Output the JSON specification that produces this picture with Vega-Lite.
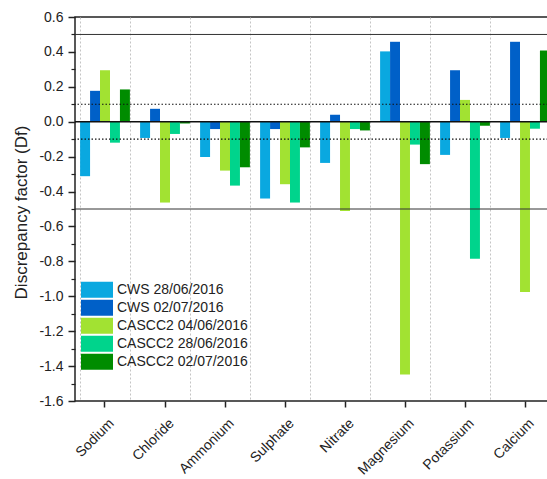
{
  "$schema": "https://vega.github.io/schema/vega-lite/v6.json",
  "autosize": "none",
  "padding": {"left": 75, "top": 17, "right": 0, "bottom": 78},
  "width": 480,
  "height": 384,
  "config": {
    "font": "Liberation Sans",
    "view": {"stroke": "#222", "strokeWidth": 1.5},
    "axis": {"labelColor": "#222", "titleColor": "#222", "tickColor": "#222", "domainColor": "#222", "labelFontSize": 14, "labelFont": "Liberation Sans", "titleFont": "Liberation Sans"}
  },
  "datasets": {
    "bars": [
      {"ion": "Sodium", "series": "CWS 28/06/2016", "value": -0.312},
      {"ion": "Sodium", "series": "CWS 02/07/2016", "value": 0.177},
      {"ion": "Sodium", "series": "CASCC2 04/06/2016", "value": 0.295},
      {"ion": "Sodium", "series": "CASCC2 28/06/2016", "value": -0.12},
      {"ion": "Sodium", "series": "CASCC2 02/07/2016", "value": 0.185},
      {"ion": "Chloride", "series": "CWS 28/06/2016", "value": -0.093},
      {"ion": "Chloride", "series": "CWS 02/07/2016", "value": 0.074},
      {"ion": "Chloride", "series": "CASCC2 04/06/2016", "value": -0.463},
      {"ion": "Chloride", "series": "CASCC2 28/06/2016", "value": -0.07},
      {"ion": "Chloride", "series": "CASCC2 02/07/2016", "value": -0.01},
      {"ion": "Ammonium", "series": "CWS 28/06/2016", "value": -0.202},
      {"ion": "Ammonium", "series": "CWS 02/07/2016", "value": -0.042},
      {"ion": "Ammonium", "series": "CASCC2 04/06/2016", "value": -0.28},
      {"ion": "Ammonium", "series": "CASCC2 28/06/2016", "value": -0.366},
      {"ion": "Ammonium", "series": "CASCC2 02/07/2016", "value": -0.261},
      {"ion": "Sulphate", "series": "CWS 28/06/2016", "value": -0.44},
      {"ion": "Sulphate", "series": "CWS 02/07/2016", "value": -0.042},
      {"ion": "Sulphate", "series": "CASCC2 04/06/2016", "value": -0.358},
      {"ion": "Sulphate", "series": "CASCC2 28/06/2016", "value": -0.463},
      {"ion": "Sulphate", "series": "CASCC2 02/07/2016", "value": -0.147},
      {"ion": "Nitrate", "series": "CWS 28/06/2016", "value": -0.236},
      {"ion": "Nitrate", "series": "CWS 02/07/2016", "value": 0.04},
      {"ion": "Nitrate", "series": "CASCC2 04/06/2016", "value": -0.511},
      {"ion": "Nitrate", "series": "CASCC2 28/06/2016", "value": -0.042},
      {"ion": "Nitrate", "series": "CASCC2 02/07/2016", "value": -0.05},
      {"ion": "Magnesium", "series": "CWS 28/06/2016", "value": 0.403},
      {"ion": "Magnesium", "series": "CWS 02/07/2016", "value": 0.458},
      {"ion": "Magnesium", "series": "CASCC2 04/06/2016", "value": -1.448},
      {"ion": "Magnesium", "series": "CASCC2 28/06/2016", "value": -0.131},
      {"ion": "Magnesium", "series": "CASCC2 02/07/2016", "value": -0.243},
      {"ion": "Potassium", "series": "CWS 28/06/2016", "value": -0.19},
      {"ion": "Potassium", "series": "CWS 02/07/2016", "value": 0.295},
      {"ion": "Potassium", "series": "CASCC2 04/06/2016", "value": 0.125},
      {"ion": "Potassium", "series": "CASCC2 28/06/2016", "value": -0.785},
      {"ion": "Potassium", "series": "CASCC2 02/07/2016", "value": -0.023},
      {"ion": "Calcium", "series": "CWS 28/06/2016", "value": -0.093},
      {"ion": "Calcium", "series": "CWS 02/07/2016", "value": 0.458},
      {"ion": "Calcium", "series": "CASCC2 04/06/2016", "value": -0.976},
      {"ion": "Calcium", "series": "CASCC2 28/06/2016", "value": -0.04},
      {"ion": "Calcium", "series": "CASCC2 02/07/2016", "value": 0.408}
    ]
  },
  "resolve": {"axis": {"x": "independent", "y": "independent"}},
  "layer": [
    {
      "data": {"name": "bars"},
      "mark": {"type": "tick", "opacity": 0},
      "encoding": {
        "x": {"field": "ion", "type": "nominal", "sort": null,
          "scale": {"paddingInner": 0.17, "paddingOuter": 0.085},
          "axis": {"orient": "bottom", "title": null, "labels": false, "ticks": false, "domain": false, "grid": true, "tickBand": "extent", "gridColor": "#c4c4c4", "gridDash": [2, 2], "gridWidth": 1}},
        "y": {"field": "value", "type": "quantitative",
          "scale": {"domain": [-1.6, 0.6], "nice": false, "zero": false},
          "axis": {"orient": "left", "title": null, "labels": false, "grid": false, "domain": false, "tickSize": 4, "tickWidth": 1.2,
            "values": [-1.5, -1.3, -1.1, -0.9, -0.7, -0.5, -0.3, -0.1, 0.1, 0.3, 0.5]}}
      }
    },
    {
      "data": {"name": "bars"},
      "mark": {"type": "bar"},
      "encoding": {
        "x": {"field": "ion", "type": "nominal", "sort": null,
          "axis": {"orient": "bottom", "title": null, "grid": false, "domain": false, "tickSize": 6, "tickWidth": 1.5, "labelAngle": -45, "labelAlign": "right", "labelBaseline": "top", "labelPadding": 9, "labelOffset": 2, "labelFontSize": 14}},
        "xOffset": {"field": "series", "type": "nominal", "sort": null, "scale": {"paddingInner": 0, "paddingOuter": 0}},
        "y": {"field": "value", "type": "quantitative",
          "axis": {"orient": "left", "title": "Discrepancy factor (Df)", "titleFontSize": 17, "titleFontWeight": "normal", "titleX": -54, "titleY": 195, "titleAngle": -90, "titleBaseline": "middle", "titleAlign": "center",
            "grid": false, "domain": false, "tickSize": 7, "tickWidth": 1.5, "labelPadding": 5,
            "values": [-1.6, -1.4, -1.2, -1, -0.8, -0.6, -0.4, -0.2, 0, 0.2, 0.4, 0.6],
            "labelExpr": "replace(format(datum.value, '.1f'), '\u2212', '-')"}},
        "color": {"field": "series", "type": "nominal", "sort": null,
          "scale": {"domain": ["CWS 28/06/2016", "CWS 02/07/2016", "CASCC2 04/06/2016", "CASCC2 28/06/2016", "CASCC2 02/07/2016"],
                    "range": ["#0aa8e0", "#0060c8", "#a2e232", "#00d48c", "#008c00"]},
          "legend": {"orient": "none", "legendX": 6, "legendY": 264, "title": null, "padding": 0, "offset": 0,
            "symbolType": "M-1,-0.5H1V0.5H-1Z", "symbolSize": 1024, "symbolStrokeWidth": 0, "symbolOpacity": 1,
            "clipHeight": 17.7, "rowPadding": 0, "labelFontSize": 14, "labelColor": "#222", "labelOffset": 4, "labelFont": "Liberation Sans"}}
      }
    },
    {
      "data": {"values": [{"y": 0.5}, {"y": -0.5}]},
      "mark": {"type": "rule", "color": "#333", "strokeWidth": 1},
      "encoding": {"y": {"field": "y", "type": "quantitative", "axis": null}}
    },
    {
      "data": {"values": [{"y": 0.1}, {"y": -0.1}]},
      "mark": {"type": "rule", "color": "#111", "strokeWidth": 1.2, "strokeDash": [1.5, 2]},
      "encoding": {"y": {"field": "y", "type": "quantitative", "axis": null}}
    },
    {
      "data": {"values": [{"y": 0}]},
      "mark": {"type": "rule", "color": "#111", "strokeWidth": 1.6},
      "encoding": {"y": {"field": "y", "type": "quantitative", "axis": null}}
    }
  ]
}
